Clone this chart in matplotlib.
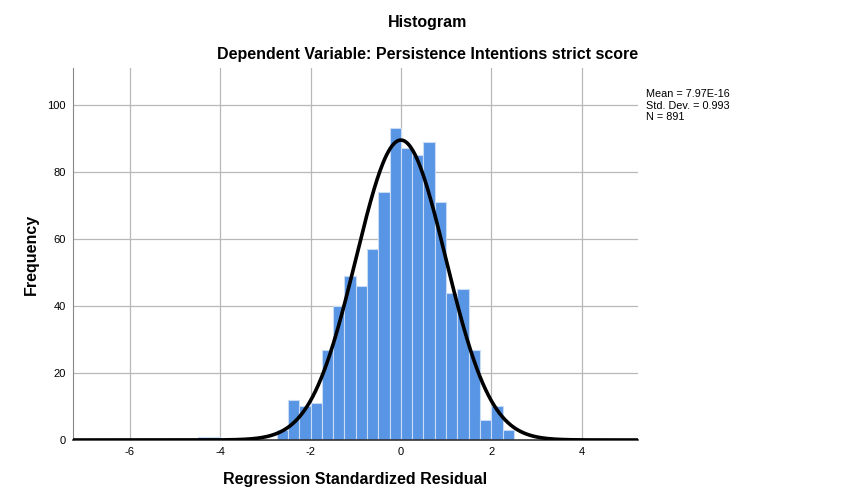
import numpy as np
import matplotlib
matplotlib.use('Agg')
import matplotlib.pyplot as plt

plt.rcParams['font.family'] = ['Liberation Sans', 'DejaVu Sans']
plt.rcParams['axes.unicode_minus'] = False

# Histogram of standardized residuals (bin width 0.25), left bin edges
bin_left = [-4.5, -4.25,
            -2.75, -2.5, -2.25, -2.0, -1.75, -1.5, -1.25, -1.0, -0.75, -0.5, -0.25,
            0.0, 0.25, 0.5, 0.75, 1.0, 1.25, 1.5, 1.75, 2.0, 2.25]
counts = [1, 1,
          3, 12, 10, 11, 27, 40, 49, 46, 57, 74, 93,
          87, 85, 89, 71, 44, 45, 27, 6, 10, 3]
mean_val = 7.97e-16
std_val = 0.993
n_obs = 891
bin_width = 0.25

fig = plt.figure(figsize=(8.54, 5.04), dpi=100)
ax = fig.add_axes([73 / 854, 64 / 504, 565 / 854, 372 / 504])

ax.bar(bin_left, counts, width=bin_width, align='edge',
       color='#5895e4', edgecolor='#c9dcf5', linewidth=0.8, zorder=2)

xs = np.linspace(-7.3, 5.3, 600)
pdf = n_obs * bin_width / (std_val * np.sqrt(2 * np.pi)) * np.exp(-0.5 * ((xs - mean_val) / std_val) ** 2)
ax.plot(xs, pdf, color='black', linewidth=2.6, zorder=3)

ax.set_xlim(-7.26, 5.25)
ax.set_ylim(0, 111)
ax.set_xticks([-6, -4, -2, 0, 2, 4])
ax.set_yticks([0, 20, 40, 60, 80, 100])
ax.tick_params(length=0, labelsize=8, pad=5)
ax.grid(True, color='#b8b8b8', linewidth=0.9, zorder=0)
ax.set_axisbelow(True)
for s in ['top', 'right']:
    ax.spines[s].set_visible(False)
ax.spines['left'].set_color('#888888')
ax.spines['bottom'].set_color('#333333')
ax.spines['bottom'].set_linewidth(1.2)

ax.set_xlabel('Regression Standardized Residual', fontsize=11.5, fontweight='bold', labelpad=11)
ax.set_ylabel('Frequency', fontsize=11.5, fontweight='bold', labelpad=6)

fig.text(428 / 854, 1 - 23 / 504, 'Histogram', ha='center', va='center',
         fontsize=11.5, fontweight='bold')
fig.text(428 / 854, 1 - 54 / 504, 'Dependent Variable: Persistence Intentions strict score',
         ha='center', va='center', fontsize=11.5, fontweight='bold')

fig.text(646 / 854, 1 - 89 / 504,
         'Mean = 7.97E-16\nStd. Dev. = 0.993\nN = 891',
         ha='left', va='top', fontsize=7.8, linespacing=1.2)

fig.savefig('out.png', dpi=100)
